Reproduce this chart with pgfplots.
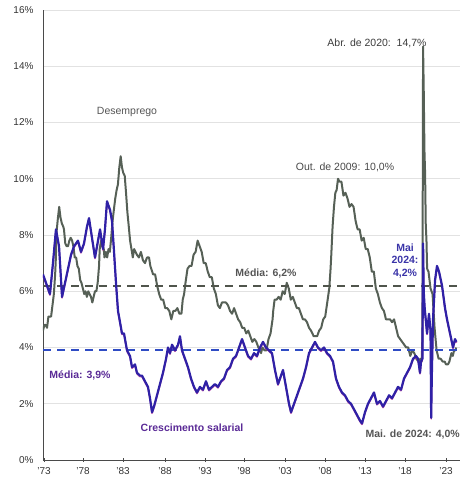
\documentclass[border=0pt]{standalone}
\usepackage{fontspec}
\setmainfont{Liberation Sans}
\usepackage{pgfplots}
\usepackage{pgfplotstable}
\pgfplotsset{compat=1.18}

\definecolor{unemp}{HTML}{566056}
\definecolor{wage}{HTML}{2F21A6}
\definecolor{wagefringe}{HTML}{B0309A}
\definecolor{avggray}{HTML}{50554C}
\definecolor{avgblue}{HTML}{2F4CC4}
\definecolor{gridgray}{HTML}{E2E2E2}
\definecolor{axisgray}{HTML}{4A4A4A}
\definecolor{txtgray}{HTML}{555555}
\definecolor{txtpurple}{HTML}{5A2A96}
\definecolor{txtblue}{HTML}{3A34A8}

% Unemployment rate (%)
\pgfplotstableread{
x y
1973.33 4.6
1973.50 4.8
1973.67 4.8
1973.83 4.7
1974.00 5.1
1974.17 5.1
1974.33 5.1
1974.50 5.5
1974.67 5.9
1974.83 6.6
1974.92 7.2
1975.00 8.1
1975.17 8.6
1975.33 9.0
1975.50 8.6
1975.67 8.4
1975.83 8.3
1975.92 8.2
1976.08 7.7
1976.25 7.6
1976.42 7.6
1976.58 7.8
1976.75 7.9
1976.92 7.8
1977.08 7.6
1977.25 7.2
1977.42 7.2
1977.58 6.9
1977.75 6.8
1977.92 6.4
1978.08 6.3
1978.25 6.1
1978.42 5.9
1978.58 6.0
1978.75 5.8
1978.92 6.0
1979.08 5.9
1979.25 5.8
1979.42 5.6
1979.58 5.8
1979.75 6.0
1979.92 6.0
1980.08 6.3
1980.25 6.9
1980.33 7.5
1980.50 7.8
1980.67 7.6
1980.83 7.5
1980.92 7.2
1981.08 7.4
1981.25 7.2
1981.42 7.5
1981.58 7.4
1981.75 7.9
1981.92 8.5
1982.08 8.9
1982.25 9.3
1982.42 9.6
1982.58 9.8
1982.75 10.4
1982.92 10.8
1983.08 10.4
1983.25 10.2
1983.42 10.1
1983.58 9.5
1983.75 8.8
1983.92 8.3
1984.08 7.8
1984.25 7.5
1984.42 7.2
1984.58 7.5
1984.75 7.4
1984.92 7.3
1985.17 7.2
1985.42 7.4
1985.67 7.1
1985.92 7.0
1986.17 7.2
1986.42 7.2
1986.58 6.9
1986.92 6.6
1987.17 6.6
1987.42 6.2
1987.67 5.9
1987.92 5.7
1988.17 5.7
1988.42 5.4
1988.67 5.4
1988.92 5.3
1989.17 5.0
1989.42 5.3
1989.67 5.3
1989.92 5.4
1990.17 5.2
1990.42 5.2
1990.58 5.7
1990.75 5.9
1990.92 6.3
1991.17 6.8
1991.42 6.9
1991.67 6.9
1991.92 7.3
1992.17 7.4
1992.42 7.8
1992.67 7.6
1992.92 7.4
1993.17 7.0
1993.42 7.0
1993.67 6.7
1993.92 6.5
1994.17 6.5
1994.42 6.1
1994.67 5.9
1994.92 5.5
1995.17 5.4
1995.42 5.6
1995.67 5.6
1995.92 5.6
1996.17 5.5
1996.42 5.3
1996.67 5.2
1996.92 5.4
1997.17 5.2
1997.42 5.0
1997.67 4.9
1997.92 4.7
1998.17 4.7
1998.42 4.5
1998.67 4.6
1998.92 4.4
1999.17 4.2
1999.42 4.3
1999.67 4.2
1999.92 4.0
2000.25 3.8
2000.42 4.0
2000.67 3.9
2000.92 3.9
2001.17 4.3
2001.42 4.5
2001.67 5.0
2001.75 5.3
2001.92 5.7
2002.17 5.7
2002.42 5.8
2002.67 5.7
2002.92 6.0
2003.17 5.9
2003.42 6.3
2003.67 6.1
2003.92 5.7
2004.17 5.8
2004.42 5.6
2004.67 5.4
2004.92 5.4
2005.17 5.2
2005.42 5.0
2005.67 5.0
2005.92 4.9
2006.17 4.7
2006.42 4.6
2006.75 4.4
2006.92 4.4
2007.17 4.4
2007.42 4.6
2007.67 4.7
2007.92 5.0
2008.17 5.1
2008.42 5.6
2008.67 6.1
2008.83 6.8
2008.92 7.3
2009.08 8.3
2009.25 9.0
2009.42 9.5
2009.58 9.6
2009.75 10.0
2009.92 9.9
2010.17 9.9
2010.42 9.4
2010.67 9.5
2010.92 9.3
2011.17 9.0
2011.42 9.1
2011.67 9.0
2011.92 8.5
2012.17 8.2
2012.42 8.2
2012.67 7.8
2012.92 7.9
2013.17 7.5
2013.42 7.5
2013.67 7.2
2013.92 6.7
2014.17 6.7
2014.42 6.1
2014.67 5.9
2014.92 5.6
2015.17 5.4
2015.42 5.3
2015.67 5.0
2015.92 5.0
2016.17 5.0
2016.42 4.9
2016.67 5.0
2016.92 4.7
2017.17 4.4
2017.42 4.3
2017.67 4.2
2017.92 4.1
2018.17 4.0
2018.42 4.0
2018.67 3.7
2018.92 3.9
2019.17 3.8
2019.42 3.6
2019.67 3.5
2019.92 3.6
2020.08 3.5
2020.17 4.4
2020.25 14.7
2020.33 13.2
2020.42 11.0
2020.50 10.2
2020.58 8.4
2020.67 7.8
2020.75 6.8
2020.92 6.7
2021.17 6.1
2021.42 5.9
2021.67 4.7
2021.92 3.9
2022.17 3.6
2022.42 3.6
2022.67 3.5
2022.92 3.5
2023.08 3.4
2023.33 3.4
2023.50 3.5
2023.75 3.8
2023.92 3.7
2024.08 3.9
2024.25 3.9
2024.33 4.0
}\unemptable

% Wage growth, year over year (%)
\pgfplotstableread{
x y
1973.33 6.6
1973.70 6.3
1974.19 5.9
1974.56 7.0
1974.93 8.2
1975.31 7.6
1975.68 5.8
1976.05 6.3
1976.42 6.8
1976.79 7.3
1977.16 7.6
1977.65 7.8
1978.02 7.4
1978.39 7.7
1978.76 8.3
1979.01 8.6
1979.38 7.9
1979.75 7.2
1980.12 7.8
1980.37 8.2
1980.74 7.5
1980.98 8.2
1981.23 9.2
1981.60 8.9
1981.85 8.5
1982.10 7.4
1982.34 6.3
1982.59 5.3
1982.84 4.9
1983.08 4.5
1983.33 4.5
1983.70 3.9
1984.07 3.7
1984.32 3.3
1984.69 3.4
1984.93 3.1
1985.31 3.0
1985.55 3.0
1985.92 2.8
1986.29 2.6
1986.54 2.2
1986.79 1.7
1987.03 1.9
1987.40 2.3
1987.77 2.7
1988.14 3.1
1988.52 3.6
1988.76 4.0
1989.01 3.8
1989.26 4.1
1989.63 3.9
1990.00 4.1
1990.24 4.4
1990.49 3.9
1990.86 3.6
1991.23 3.3
1991.60 2.9
1991.97 2.6
1992.34 2.4
1992.71 2.6
1993.08 2.5
1993.45 2.8
1993.82 2.5
1994.19 2.6
1994.56 2.7
1994.93 2.6
1995.31 2.8
1995.68 2.9
1996.05 3.2
1996.42 3.3
1996.79 3.6
1997.16 3.7
1997.53 4.0
1997.90 4.3
1998.27 4.0
1998.64 3.7
1999.01 3.6
1999.38 3.8
1999.75 3.7
2000.12 4.0
2000.49 4.2
2000.86 4.0
2001.23 3.9
2001.60 3.8
2001.97 3.2
2002.34 2.7
2002.71 3.0
2002.96 3.2
2003.33 2.6
2003.70 2.0
2003.95 1.7
2004.32 2.0
2004.69 2.3
2005.06 2.6
2005.43 2.9
2005.80 3.3
2006.17 3.8
2006.54 4.0
2006.91 4.2
2007.28 4.0
2007.65 3.9
2008.02 4.0
2008.39 3.8
2008.76 3.7
2009.13 3.5
2009.50 2.9
2009.87 2.6
2010.24 2.4
2010.61 2.3
2010.98 2.1
2011.35 2.0
2011.73 1.8
2012.10 1.6
2012.47 1.4
2012.71 1.3
2013.08 1.7
2013.45 2.0
2013.82 2.2
2014.19 2.4
2014.56 2.0
2014.93 2.1
2015.31 1.9
2015.68 2.1
2016.05 2.3
2016.42 2.2
2016.79 2.4
2017.16 2.6
2017.53 2.5
2017.90 2.9
2018.27 3.1
2018.64 3.3
2019.01 3.6
2019.38 3.7
2019.63 3.6
2019.87 3.1
2020.00 3.5
2020.17 3.6
2020.25 7.7
2020.33 6.0
2020.45 5.4
2020.74 4.5
2020.98 5.2
2021.17 4.6
2021.25 1.5
2021.33 3.0
2021.48 5.0
2021.73 6.4
2021.97 6.9
2022.22 6.7
2022.59 6.2
2022.96 5.4
2023.21 5.0
2023.58 4.5
2023.95 4.0
2024.19 4.3
2024.37 4.2
}\wagetable

\begin{document}
\begin{tikzpicture}
\begin{axis}[
  scale only axis,
  width=417pt, height=450pt,
  xmin=1973.33, xmax=2024.81,
  ymin=0, ymax=16,
  axis lines=left,
  axis line style={-, draw=axisgray, line width=0.9pt},
  ytick={0,2,...,16},
  yticklabel={\pgfmathprintnumber{\tick}\%},
  ytick style={draw=none},
  xtick={1973.45,1978.27,1983.21,1988.39,1993.33,1998.15,2003.21,2008.15,2013.09,2018.02,2023.08},
  xticklabels={’73,’78,’83,’88,’93,’98,’03,’08,’13,’18,’23},
  x tick style={draw=axisgray, line width=0.7pt},
  tick align=center,
  major tick length=4pt,
  ymajorgrids,
  grid style={draw=gridgray, line width=0.6pt},
  /pgf/number format/assume math mode=true,
  tick label style={font=\fontsize{10}{12}\selectfont, text=black!80},
  yticklabel style={xshift=-4pt},
  xticklabel style={yshift=-2pt},
  clip=true,
]
% unemployment rate
\addplot[unemp, line width=2.0pt, line join=round] table[x=x, y=y] {\unemptable};
% long-run averages
\addplot[avggray, line width=1.8pt, dash pattern=on 8pt off 6pt] coordinates {(1973.33,6.2) (2024.81,6.2)};
\addplot[avgblue, line width=2.2pt, dash pattern=on 8pt off 6pt] coordinates {(1973.33,3.9) (2024.81,3.9)};
% wage growth
\addplot[wagefringe, line width=1.6pt, line join=round, yshift=-1pt, opacity=0.8] table[x=x, y=y] {\wagetable};
\addplot[wage, line width=2.2pt, line join=round] table[x=x, y=y] {\wagetable};

% annotations
\node[text=txtgray, font=\fontsize{10.5}{12}\selectfont] at (axis cs:1983.70,12.37) {Desemprego};
\node[text=txtgray!85!black, font=\fontsize{10.5}{12}\selectfont] at (axis cs:2010.61,10.42) {Out. de 2009: 10,0\%};
\node[text=txtgray!70!black, font=\fontsize{10.5}{12}\selectfont] at (axis cs:2014.56,14.83) {Abr. de 2020:\ \ 14,7\%};
\node[text=txtgray, font=\fontsize{10.5}{12}\selectfont\bfseries] at (axis cs:2000.86,6.65) {Média: 6,2\%};
\node[text=txtpurple, font=\fontsize{10.5}{12}\selectfont\bfseries] at (axis cs:1977.90,2.99) {Média: 3,9\%};
\node[text=txtpurple, font=\fontsize{10.5}{12}\selectfont\bfseries] at (axis cs:1991.73,1.14) {Crescimento salarial};
\node[text=txtgray, font=\fontsize{10.5}{12}\selectfont\bfseries, anchor=east, inner sep=0pt] at (axis cs:2024.81,0.89) {Mai. de 2024: 4,0\%};
\node[text=txtblue, font=\fontsize{10.5}{12.5}\selectfont\bfseries, align=center] at (axis cs:2018.02,7.08) {Mai\\2024:\\4,2\%};
\end{axis}
\pgfresetboundingbox
\path (-43pt,-21pt) rectangle (417pt,460pt);
\end{tikzpicture}
\end{document}
